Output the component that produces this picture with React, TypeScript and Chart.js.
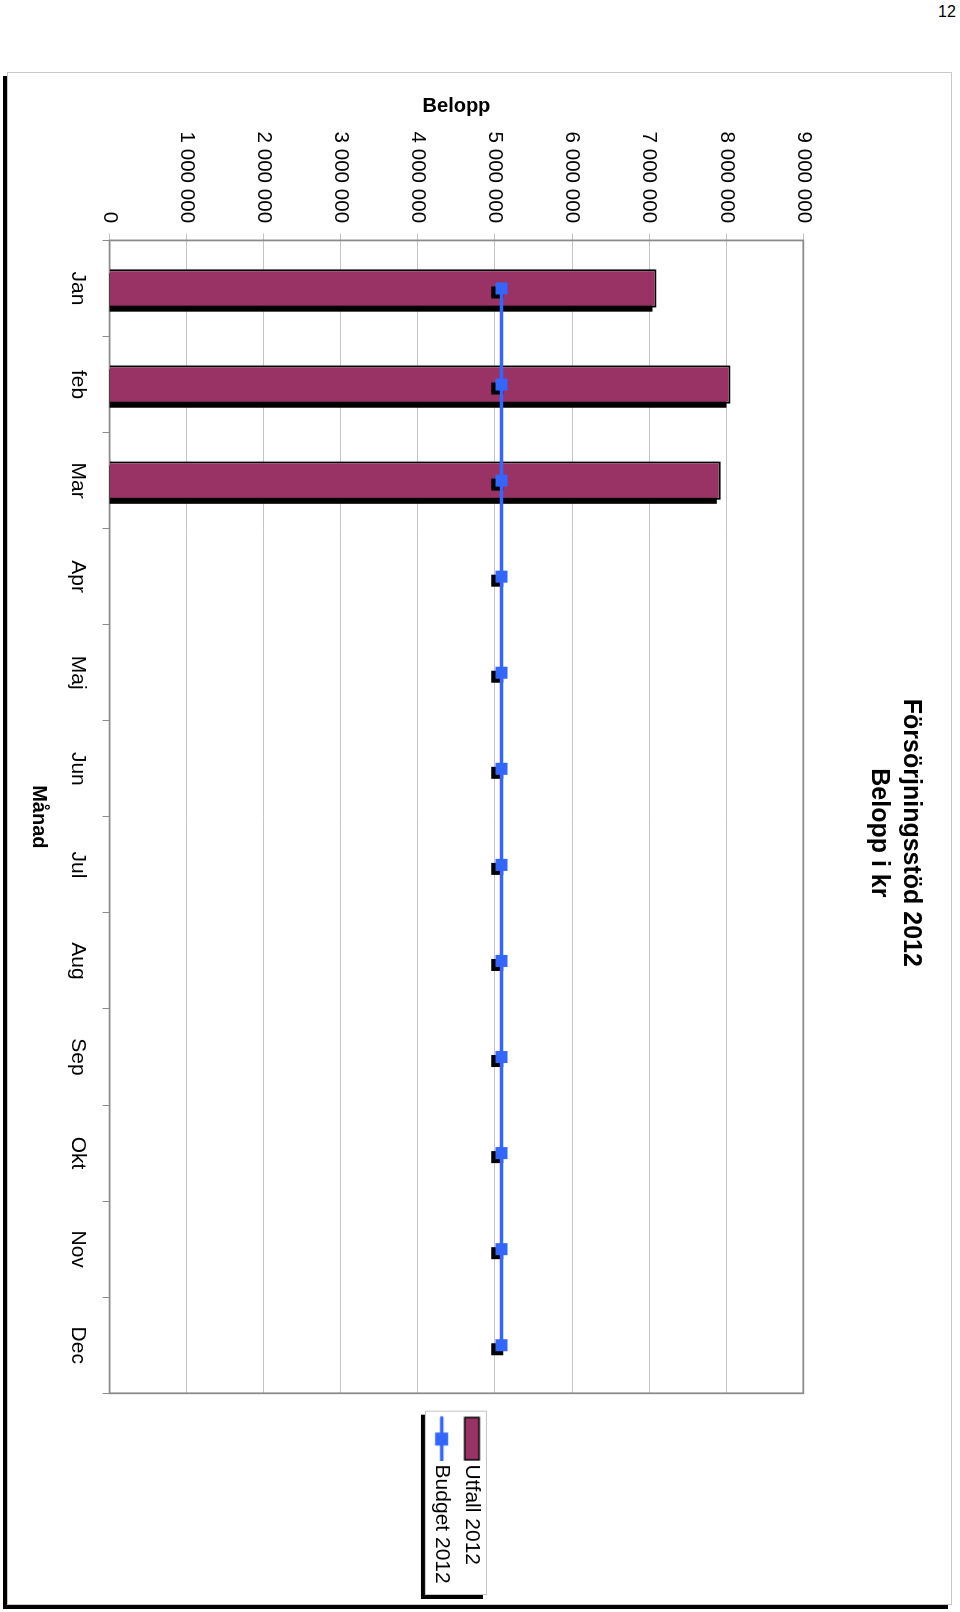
import React, { useEffect, useRef } from 'react';
import { Chart, registerables } from 'chart.js';

Chart.register(...registerables);

// ---------- data ----------
const months = ['Jan', 'feb', 'Mar', 'Apr', 'Maj', 'Jun', 'Jul', 'Aug', 'Sep', 'Okt', 'Nov', 'Dec'];
const utfall2012: (number | null)[] = [7095000, 8055000, 7930000, null, null, null, null, null, null, null, null, null];
const budget2012: number[] = [5085000, 5085000, 5085000, 5085000, 5085000, 5085000, 5085000, 5085000, 5085000, 5085000, 5085000, 5085000];
const yTickLabels = ['0', '1 000 000', '2 000 000', '3 000 000', '4 000 000', '5 000 000', '6 000 000', '7 000 000', '8 000 000', '9 000 000'];
const seriesNames = ['Utfall 2012', 'Budget 2012'];
const titleLines = ['Försörjningsstöd 2012', 'Belopp i kr'];
const yAxisTitle = 'Belopp';
const xAxisTitle = 'Månad';
const pageNumber = '12';

// ---------- style ----------
const FONT = "'Liberation Sans', Arial, Helvetica, sans-serif";
const BAR_COLOR = '#993366';
const LINE_COLOR = '#3366FF';
const CW = 1533; // canvas width (unrotated)
const CH = 945; // canvas height (unrotated)

function makeSwatch(): HTMLCanvasElement {
  const c = document.createElement('canvas');
  c.width = 66;
  c.height = 24;
  const g = c.getContext('2d')!;
  g.fillStyle = '#000';
  g.fillRect(21.4, 3.6, 44, 16);
  g.fillStyle = BAR_COLOR;
  g.fillRect(23.0, 5.2, 40.8, 12.8);
  return c;
}

function makeLineMarker(): HTMLCanvasElement {
  const c = document.createElement('canvas');
  c.width = 66;
  c.height = 24;
  const g = c.getContext('2d')!;
  g.strokeStyle = LINE_COLOR;
  g.lineWidth = 3.5;
  g.lineCap = 'round';
  g.beginPath();
  g.moveTo(22.5, 11.6);
  g.lineTo(65, 11.6);
  g.stroke();
  g.fillStyle = LINE_COLOR;
  g.fillRect(37.2, 5.1, 13, 13);
  return c;
}

const decorPlugin = {
  id: 'decor',
  beforeDraw(chart: any) {
    const { ctx, legend } = chart;
    if (!legend) return;
    const L = legend.left + 17.4;
    const R = legend.left + 201.7;
    const mid = (legend.top + legend.bottom) / 2;
    const T = mid - 30.5;
    const B = mid + 31.5;
    ctx.save();
    ctx.fillStyle = '#000';
    ctx.fillRect(L + 4, T + 4, R - L, B - T);
    ctx.fillStyle = '#fff';
    ctx.fillRect(L, T, R - L, B - T);
    ctx.strokeStyle = '#c4c4c4';
    ctx.lineWidth = 1;
    ctx.strokeRect(L + 0.5, T + 0.5, R - L - 1, B - T - 1);
    ctx.restore();
  },
  beforeDatasetsDraw(chart: any) {
    const { ctx, chartArea: a } = chart;
    ctx.save();
    ctx.strokeStyle = '#8a8a8a';
    ctx.lineWidth = 1.75;
    ctx.strokeRect(a.left, a.top, a.right - a.left, a.bottom - a.top);
    ctx.restore();
  },
  beforeDatasetDraw(chart: any, args: any) {
    const { ctx, chartArea: a } = chart;
    const meta = args.meta;
    ctx.save();
    ctx.beginPath();
    ctx.rect(a.left, a.top, a.right - a.left, a.bottom - a.top);
    ctx.clip();
    ctx.fillStyle = '#000';
    if (meta.type === 'bar') {
      meta.data.forEach((el: any) => {
        const p = el.getProps(['x', 'y', 'base', 'width'], true);
        if (p.y == null || isNaN(p.y) || isNaN(p.base)) return;
        const top = Math.min(p.y, p.base);
        const h = Math.abs(p.base - p.y);
        if (h <= 0) return;
        ctx.fillRect(p.x - p.width / 2 + 4, top + 4, p.width, h);
      });
    } else if (meta.type === 'line') {
      meta.data.forEach((el: any) => {
        const p = el.getProps(['x', 'y'], true);
        if (isNaN(p.y)) return;
        ctx.fillRect(p.x - 6 + 4, p.y - 6 + 4.3, 12, 12);
      });
    }
    ctx.restore();
  },
};

export default function App() {
  const ref = useRef<HTMLCanvasElement>(null);

  useEffect(() => {
    if (!ref.current) return;
    Chart.defaults.font.family = FONT;
    Chart.defaults.color = '#000';
    const swatch = makeSwatch();
    const lineMarker = makeLineMarker();

    const chart = new Chart(ref.current, {
      type: 'bar',
      data: {
        labels: months,
        datasets: [
          {
            type: 'bar',
            label: seriesNames[0],
            data: utfall2012 as any,
            backgroundColor: BAR_COLOR,
            borderColor: '#000',
            borderWidth: 2,
            barPercentage: 0.4,
            categoryPercentage: 1,
            order: 2,
            clip: 0 as any,
          },
          {
            type: 'line',
            label: seriesNames[1],
            data: budget2012,
            borderColor: LINE_COLOR,
            backgroundColor: LINE_COLOR,
            borderWidth: 3.5,
            pointStyle: 'rect',
            pointRadius: 8.5,
            pointBorderWidth: 0,
            pointBackgroundColor: LINE_COLOR,
            pointBorderColor: LINE_COLOR,
            tension: 0,
            fill: false,
            order: 1,
          } as any,
        ],
      },
      options: {
        responsive: false,
        animation: false,
        devicePixelRatio: 1,
        events: [],
        layout: { padding: { left: 0, top: 0, right: 11.3, bottom: 0 } },
        plugins: {
          title: {
            display: true,
            text: titleLines,
            color: '#000',
            font: { size: 25, weight: 'bold', lineHeight: 1.27 },
            padding: { top: 25.7, bottom: 59.5 },
          },
          legend: {
            display: true,
            position: 'right',
            fullSize: false,
            align: 'center',
            labels: {
              color: '#000',
              font: { size: 21 },
              padding: 9.3,
              usePointStyle: true,
              pointStyleWidth: 51.5,
              generateLabels: () => [
                { text: seriesNames[0], pointStyle: swatch, fillStyle: BAR_COLOR, strokeStyle: '#000', lineWidth: 0, hidden: false, datasetIndex: 0, fontColor: '#000' } as any,
                { text: seriesNames[1], pointStyle: lineMarker, fillStyle: LINE_COLOR, strokeStyle: LINE_COLOR, lineWidth: 0, hidden: false, datasetIndex: 1, fontColor: '#000' } as any,
              ],
            },
          },
          tooltip: { enabled: false },
        },
        scales: {
          x: {
            type: 'category',
            offset: true,
            grid: {
              display: true,
              drawOnChartArea: false,
              drawTicks: true,
              tickLength: 7,
              color: '#8a8a8a',
              offset: true,
            },
            border: { display: false },
            ticks: {
              color: '#000',
              font: { size: 21 },
              padding: 12.65,
              maxRotation: 0,
              minRotation: 0,
              autoSkip: false,
            },
            title: {
              display: true,
              text: xAxisTitle,
              color: '#000',
              font: { size: 20, weight: 'bold' },
              padding: { top: 1.1, bottom: 20 },
            },
          },
          y: {
            type: 'linear',
            min: 0,
            max: 9000000,
            grid: {
              color: '#c4c4c4',
              lineWidth: 1,
              drawTicks: true,
              tickLength: 7,
            },
            border: { display: false },
            ticks: {
              stepSize: 1000000,
              color: '#000',
              font: { size: 20.6 },
              padding: 10.3,
              callback: (_v: any, i: number) => yTickLabels[i],
            },
            title: {
              display: true,
              text: yAxisTitle,
              color: '#000',
              font: { size: 20, weight: 'bold' },
              padding: { top: 22.3, bottom: 2.9 },
            },
          },
        },
      } as any,
      plugins: [decorPlugin],
    });

    return () => {
      chart.destroy();
    };
  }, []);

  return (
    <div
      style={{
        position: 'absolute',
        left: 0,
        top: 0,
        width: 960,
        height: 1612,
        overflow: 'hidden',
        background: '#fff',
        fontFamily: FONT,
      }}
    >
      <div style={{ position: 'absolute', left: 938, top: 4, fontSize: 16, lineHeight: '16px', color: '#000' }}>{pageNumber}</div>
      <div
        style={{
          position: 'absolute',
          left: 7,
          top: 72,
          width: CH,
          height: CW,
          boxSizing: 'border-box',
          border: '1px solid #c8c8c8',
          boxShadow: '-4px 4px 0 #000',
          background: '#fff',
        }}
      />
      <canvas
        ref={ref}
        width={CW}
        height={CH}
        style={{
          position: 'absolute',
          left: 7,
          top: 72,
          width: CW,
          height: CH,
          transformOrigin: '0 0',
          transform: `translate(${CH}px, 0px) rotate(90deg)`,
        }}
      />
    </div>
  );
}
